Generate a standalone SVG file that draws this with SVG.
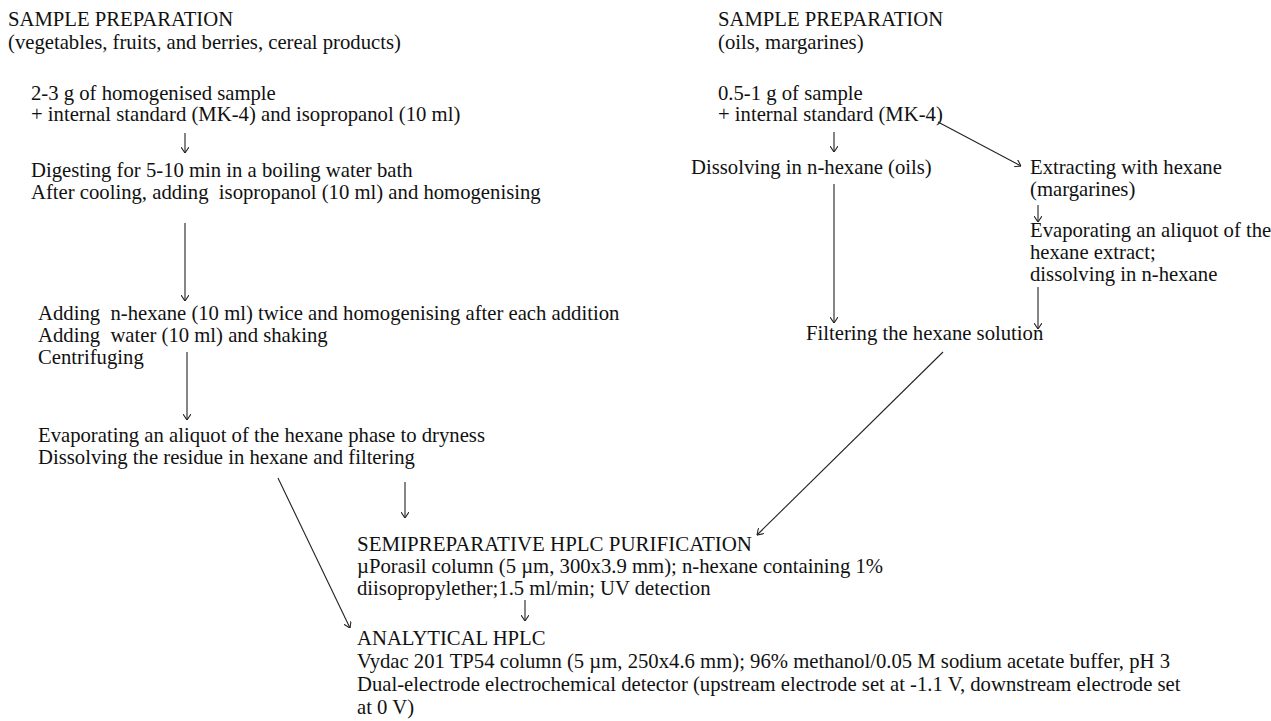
<svg xmlns="http://www.w3.org/2000/svg" width="1271" height="721" viewBox="0 0 1271 721">
<style>
text{font-family:"Liberation Serif","Times New Roman",serif;font-size:20.7px;fill:#111;white-space:pre}
.c line{stroke:#222;stroke-width:1.1;fill:none}
</style>
<defs>
<marker id="ah" viewBox="0 0 6 8" refX="6" refY="4" markerWidth="6" markerHeight="8" markerUnits="userSpaceOnUse" orient="auto">
<path d="M0,0 L6,4 L0,8" fill="none" stroke="#222" stroke-width="1.1"/>
</marker>
</defs>
<rect width="1271" height="721" fill="#fff"/>
<g id="left-header"><text x="8" y="26">SAMPLE PREPARATION</text><text x="8" y="49">(vegetables, fruits, and berries, cereal products)</text></g>
<g id="left-sample"><text x="31" y="100">2-3 g of homogenised sample</text><text x="31" y="121">+ internal standard (MK-4) and isopropanol (10 ml)</text></g>
<g id="left-digest"><text x="31" y="177">Digesting for 5-10 min in a boiling water bath</text><text x="31" y="199">After cooling, adding  isopropanol (10 ml) and homogenising</text></g>
<g id="left-hexane"><text x="38" y="320">Adding  n-hexane (10 ml) twice and homogenising after each addition</text><text x="38" y="342">Adding  water (10 ml) and shaking</text><text x="38" y="364">Centrifuging</text></g>
<g id="left-evap"><text x="38" y="442">Evaporating an aliquot of the hexane phase to dryness</text><text x="38" y="464">Dissolving the residue in hexane and filtering</text></g>
<g id="right-header"><text x="718" y="26">SAMPLE PREPARATION</text><text x="718" y="49">(oils, margarines)</text></g>
<g id="right-sample"><text x="718" y="100">0.5-1 g of sample</text><text x="718" y="121">+ internal standard (MK-4)</text></g>
<g id="right-dissolve"><text x="691" y="174">Dissolving in n-hexane (oils)</text></g>
<g id="right-extract"><text x="1030" y="174">Extracting with hexane</text><text x="1030" y="196">(margarines)</text></g>
<g id="right-evap"><text x="1030" y="237">Evaporating an aliquot of the</text><text x="1030" y="259">hexane extract;</text><text x="1030" y="281">dissolving in n-hexane</text></g>
<g id="right-filter"><text x="806" y="340">Filtering the hexane solution</text></g>
<g id="semiprep"><text x="357" y="551" textLength="395" lengthAdjust="spacingAndGlyphs">SEMIPREPARATIVE HPLC PURIFICATION</text><text x="357" y="573">µPorasil column (5 µm, 300x3.9 mm); n-hexane containing 1%</text><text x="357" y="595">diisopropylether;1.5 ml/min; UV detection</text></g>
<g id="analytical"><text x="357" y="645">ANALYTICAL HPLC</text><text x="357" y="668">Vydac 201 TP54 column (5 µm, 250x4.6 mm); 96% methanol/0.05 M sodium acetate buffer, pH 3</text><text x="357" y="691">Dual-electrode electrochemical detector (upstream electrode set at -1.1 V, downstream electrode set</text><text x="357" y="714">at 0 V)</text></g>
<g id="connectors" class="c">
<line x1="185" y1="133" x2="185" y2="153" marker-end="url(#ah)"/>
<line x1="185" y1="223" x2="185" y2="301" marker-end="url(#ah)"/>
<line x1="187" y1="352" x2="187" y2="420" marker-end="url(#ah)"/>
<line x1="405" y1="482" x2="405" y2="518" marker-end="url(#ah)"/>
<line x1="278" y1="478" x2="350" y2="628" marker-end="url(#ah)"/>
<line x1="525" y1="600" x2="525" y2="621" marker-end="url(#ah)"/>
<line x1="834" y1="132" x2="834" y2="152" marker-end="url(#ah)"/>
<line x1="938" y1="122" x2="1021" y2="166" marker-end="url(#ah)"/>
<line x1="834" y1="184" x2="834" y2="323" marker-end="url(#ah)"/>
<line x1="1038" y1="205" x2="1038" y2="222" marker-end="url(#ah)"/>
<line x1="1038" y1="287" x2="1038" y2="329" marker-end="url(#ah)"/>
<line x1="943" y1="352" x2="757" y2="535" marker-end="url(#ah)"/>
</g>
</svg>
